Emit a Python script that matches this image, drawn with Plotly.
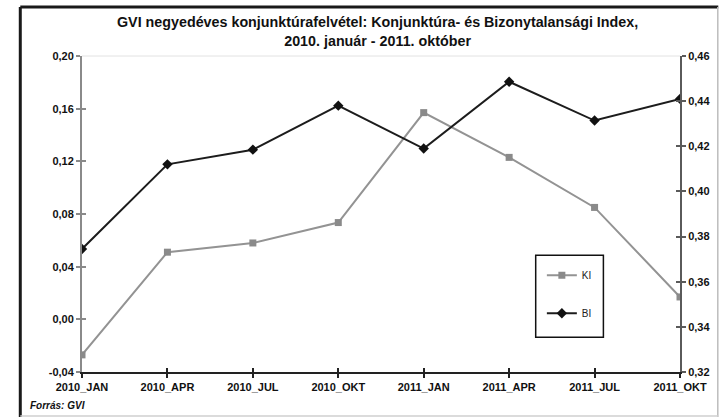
import plotly.graph_objects as go

categories = ["2010_JAN", "2010_APR", "2010_JUL", "2010_OKT",
              "2011_JAN", "2011_APR", "2011_JUL", "2011_OKT"]
ki_values = [-0.027, 0.051, 0.058, 0.0735, 0.157, 0.123, 0.085, 0.017]
bi_values = [0.3745, 0.412, 0.4185, 0.438, 0.419, 0.4486, 0.4314, 0.441]

left_ticks = [-0.04, 0.00, 0.04, 0.08, 0.12, 0.16, 0.20]
left_labels = ["-0,04", "0,00", "0,04", "0,08", "0,12", "0,16", "0,20"]
right_ticks = [0.32, 0.34, 0.36, 0.38, 0.40, 0.42, 0.44, 0.46]
right_labels = ["0,32", "0,34", "0,36", "0,38", "0,40", "0,42", "0,44", "0,46"]

FONT = "Liberation Sans, Arial, sans-serif"
idx = list(range(len(categories)))

fig = go.Figure()
fig.add_trace(go.Scatter(
    x=idx, y=ki_values, name="KI", mode="lines+markers",
    line=dict(color="#939393", width=2),
    marker=dict(symbol="square", size=7, color="#8a8a8a"),
    legendgroup="ki", yaxis="y"))
fig.add_trace(go.Scatter(
    x=idx, y=bi_values, name="BI", mode="lines+markers",
    line=dict(color="#1c1c1c", width=2),
    marker=dict(symbol="diamond", size=8, color="#111111"),
    legendgroup="bi", yaxis="y2"))

tickfont = dict(family=FONT, size=11, color="#111111", weight="bold")

fig.update_layout(
    width=722, height=417,
    margin=dict(l=82, r=39, t=56, b=45),
    paper_bgcolor="white", plot_bgcolor="white",
    font=dict(family=FONT),
    showlegend=True,
    title=dict(
        text="GVI negyedéves konjunktúrafelvétel: Konjunktúra- és Bizonytalansági Index,<br>2010. január - 2011. október",
        x=0.523, xanchor="center", y=0.935, yanchor="middle", yref="container",
        font=dict(family=FONT, size=14.3, color="#111111", weight="bold")),
    xaxis=dict(
        range=[0, 7], tickvals=idx, ticktext=categories,
        showgrid=False, zeroline=False,
        showline=True, linecolor="#222222", linewidth=2,
        ticks="outside", ticklen=4, tickwidth=1.5, tickcolor="#222222",
        ticklabelstandoff=0,
        tickfont=tickfont),
    xaxis2=dict(
        range=[0, 7], tickvals=idx, overlaying="x", side="bottom",
        showgrid=False, zeroline=False, showline=False,
        ticks="inside", ticklen=4, tickwidth=1.5, tickcolor="#222222",
        showticklabels=False),
    yaxis=dict(
        range=[-0.04, 0.20], tickvals=left_ticks, ticktext=left_labels,
        showgrid=False, zeroline=False,
        showline=True, linecolor="#8a8a8a", linewidth=2,
        ticks="outside", ticklen=4, tickwidth=1.5, tickcolor="#8a8a8a",
        tickfont=tickfont),
    yaxis3=dict(
        range=[-0.04, 0.20], tickvals=left_ticks, overlaying="y", side="left",
        showgrid=False, zeroline=False, showline=False,
        ticks="inside", ticklen=4, tickwidth=1.5, tickcolor="#8a8a8a",
        showticklabels=False),
    yaxis2=dict(
        range=[0.32, 0.46], tickvals=right_ticks, ticktext=right_labels,
        overlaying="y", side="right",
        showgrid=False, zeroline=False,
        showline=True, linecolor="#5a5a5a", linewidth=2,
        ticks="outside", ticklen=4, tickwidth=1.5, tickcolor="#5a5a5a",
        tickfont=tickfont),
    yaxis4=dict(
        range=[0.32, 0.46], tickvals=right_ticks, overlaying="y", side="right",
        showgrid=False, zeroline=False, showline=False,
        ticks="inside", ticklen=4, tickwidth=1.5, tickcolor="#5a5a5a",
        showticklabels=False),
    legend=dict(
        x=0.769, y=0.352, xanchor="left", yanchor="top",
        bgcolor="rgba(0,0,0,0)", borderwidth=0,
        tracegroupgap=19, traceorder="grouped", itemwidth=30,
        font=dict(family=FONT, size=10, color="#222222")),
)

# dummy invisible traces so the overlay tick axes are drawn
fig.add_trace(go.Scatter(x=[0], y=[0.2], xaxis="x2", yaxis="y3", mode="markers",
                         marker=dict(opacity=0), showlegend=False, hoverinfo="skip"))
fig.add_trace(go.Scatter(x=[0], y=[0.46], xaxis="x2", yaxis="y4", mode="markers",
                         marker=dict(opacity=0), showlegend=False, hoverinfo="skip"))

# outer frame, legend box and top light line of plot area
shapes = [
    dict(type="line", xref="paper", yref="paper", x0=-0.1032, x1=1.064, y0=1.155, y1=1.155,
         line=dict(color="#1a1a1a", width=3)),
    dict(type="line", xref="paper", yref="paper", x0=-0.1032, x1=-0.1032, y0=1.155, y1=-0.145,
         line=dict(color="#1a1a1a", width=3)),
    dict(type="line", xref="paper", yref="paper", x0=1.0632, x1=1.0632, y0=1.155, y1=-0.145,
         line=dict(color="#bdbdbd", width=1.5)),
    dict(type="line", xref="paper", yref="paper", x0=-0.1032, x1=1.064, y0=-0.1395, y1=-0.1395,
         line=dict(color="#cfcfcf", width=1.5)),
    dict(type="line", xref="paper", yref="paper", x0=0, x1=1, y0=1, y1=1,
         line=dict(color="#e2e2e2", width=1)),
    dict(type="rect", xref="paper", yref="paper", x0=0.7587, x1=0.8719, y0=0.3698, y1=0.1101,
         line=dict(color="#111111", width=1.5), fillcolor="rgba(0,0,0,0)", layer="below"),
]
fig.update_layout(shapes=shapes)

fig.add_annotation(text="<i>Forrás: GVI</i>", xref="paper", yref="paper",
                   x=-0.09, y=-0.105, xanchor="left", yanchor="middle", showarrow=False,
                   font=dict(family=FONT, size=10, color="#111111", weight="bold"))

fig.write_html("out.html", config={"displayModeBar": False},
               post_script="document.body.style.margin='0';")
